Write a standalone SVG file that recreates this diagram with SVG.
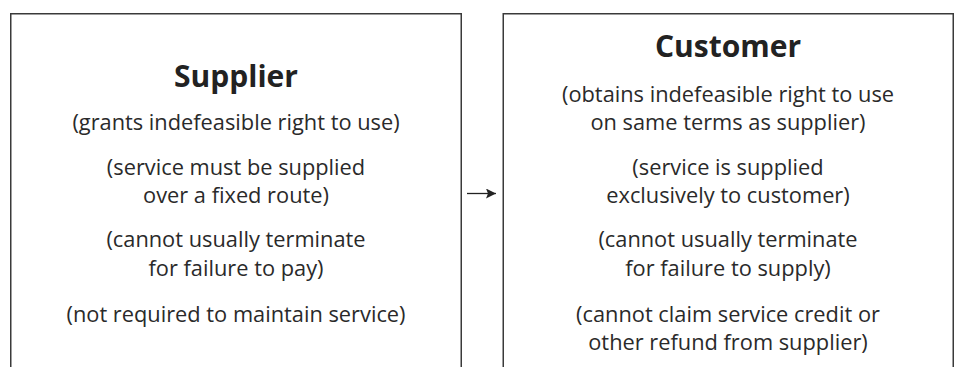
<svg xmlns="http://www.w3.org/2000/svg" width="959" height="367" viewBox="0 0 959 367">
<defs>
<style>
.box{fill:none;stroke:#3a3a3a;stroke-width:1.5}
.t{font-family:"Open Sans","Noto Sans",sans-serif;font-size:21.8px;fill:#2a2a2a;text-anchor:middle}
.h{font-family:"Open Sans","Noto Sans",sans-serif;font-size:30px;font-weight:bold;fill:#222;text-anchor:middle}
</style>
<marker id="ah" viewBox="0 0 10 10" refX="10" refY="5" markerWidth="15" markerHeight="10" markerUnits="userSpaceOnUse" orient="auto">
<path d="M0,0 L10,5 L0,10 L2,5 z" fill="#222"/>
</marker>
</defs>
<g id="supplier">
<path class="box" d="M10.75,367 V13.75 H461.25 V367"/>
<text class="h" x="236" y="87">Supplier</text>
<text class="t" x="236" y="130">(grants indefeasible right to use)</text>
<text class="t" x="236" y="175">(service must be supplied</text>
<text class="t" x="236" y="203">over a fixed route)</text>
<text class="t" x="236" y="247">(cannot usually terminate</text>
<text class="t" x="236" y="276">for failure to pay)</text>
<text class="t" x="236" y="322">(not required to maintain service)</text>
</g>
<g id="customer">
<path class="box" d="M503.25,367 V13.75 H953.25 V367"/>
<text class="h" x="728" y="57">Customer</text>
<text class="t" x="728" y="102">(obtains indefeasible right to use</text>
<text class="t" x="728" y="130">on same terms as supplier)</text>
<text class="t" x="728" y="175">(service is supplied</text>
<text class="t" x="728" y="203">exclusively to customer)</text>
<text class="t" x="728" y="247">(cannot usually terminate</text>
<text class="t" x="728" y="276">for failure to supply)</text>
<text class="t" x="728" y="322">(cannot claim service credit or</text>
<text class="t" x="728" y="350">other refund from supplier)</text>
</g>
<g id="connectors">
<line x1="467" y1="193.5" x2="496" y2="193.5" stroke="#222" stroke-width="1.3" marker-end="url(#ah)"/>
</g>
</svg>
